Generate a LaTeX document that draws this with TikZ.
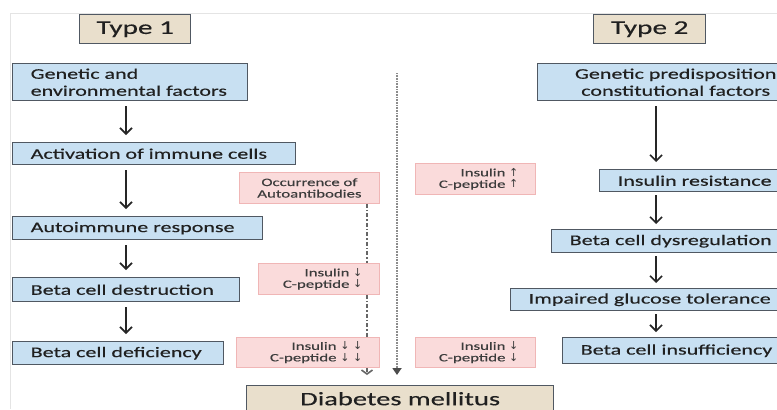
\documentclass[tikz,border=0pt]{standalone}
\usepackage{fontspec}
\setmainfont{Carlito}[FakeStretch=1.5,FakeBold=0.35]
\newfontfamily\symf{DejaVu Sans}
\usetikzlibrary{arrows.meta}
\definecolor{bluef}{RGB}{200,224,242}
\definecolor{bdr}{RGB}{80,88,98}
\definecolor{beige}{RGB}{233,223,204}
\definecolor{pinkf}{RGB}{250,219,219}
\definecolor{pinkb}{RGB}{240,182,182}
\definecolor{txt}{RGB}{32,32,32}
\definecolor{ptxt}{RGB}{60,60,60}
\definecolor{framec}{RGB}{228,228,228}
\newcommand{\arrdn}{{\symf\fontsize{11bp}{11bp}\selectfont ↓}}
\newcommand{\arrup}{{\symf\fontsize{11bp}{11bp}\selectfont ↑}}
\begin{document}
\begin{tikzpicture}[x=1bp,y=-1bp,
  bluebox/.style={draw=bdr, fill=bluef, line width=1.4bp, inner xsep=18bp, inner ysep=0pt,
    anchor=north west, align=left, text=txt, font=\fontsize{14.7bp}{17bp}\selectfont},
  typebox/.style={draw=bdr, fill=beige, line width=1.4bp, inner sep=0pt, anchor=north west,
    text=txt, font=\fontsize{19.5bp}{22bp}\selectfont},
  pinkbox/.style={draw=pinkb, fill=pinkf, line width=0.9bp, inner xsep=17bp, inner ysep=0pt,
    anchor=north west, align=right, text=ptxt, font=\fontsize{11.2bp}{11.5bp}\selectfont},
  flowarr/.style={line width=1.6bp, black!85, -{Straight Barb[length=6bp,width=12bp]},
    shorten <=5bp, shorten >=7bp},
  dashdot/.style={line width=2bp, black!60, dash pattern=on 4bp off 2bp on 1.5bp off 2bp},
  dotline/.style={line width=2.2bp, black!45, dash pattern=on 0.8bp off 0.8bp}
]
\useasboundingbox (0,0) rectangle (777,409);
\clip (0,0) rectangle (777,409);
\fill[white] (0,0) rectangle (777,409);
\draw[framec, line width=1bp] (10,409) -- (10,13) -- (777,13);

% Type headers
\node[typebox, minimum width=111bp, minimum height=29bp] (t1) at (79,14) {Type 1};
\node[typebox, minimum width=112bp, minimum height=29bp] (t2) at (593,14) {Type 2};

% Type 1 chain
\node[bluebox, text width=199bp, minimum height=37bp] (g1) at (12,63)
  {\mbox{Genetic and}\\\mbox{environmental factors}};
\node[bluebox, text width=247bp, minimum height=22bp] (a1) at (12,142) {\mbox{Activation of immune cells}};
\node[bluebox, text width=214bp, minimum height=23bp] (a2) at (12,216) {\mbox{Autoimmune response}};
\node[bluebox, text width=191bp, minimum height=24bp] (a3) at (12,277) {\mbox{Beta cell destruction}};
\node[bluebox, text width=175bp, minimum height=23bp] (a4) at (12,341) {\mbox{Beta cell deficiency}};

% Type 2 chain
\node[bluebox, align=center, inner xsep=17bp, text width=242bp, minimum height=37bp] (b1) at (537,63)
  {Genetic predisposition\\constitutional factors};
\node[bluebox, text width=200bp, minimum height=22bp] (b2) at (599,169) {\mbox{Insulin resistance}};
\node[bluebox, text width=240bp, minimum height=23bp] (b3) at (551,229) {\mbox{Beta cell dysregulation}};
\node[bluebox, text width=280bp, minimum height=22bp] (b4) at (510,288) {\mbox{Impaired glucose tolerance}};
\node[bluebox, text width=240bp, minimum height=26bp] (b5) at (562,337) {\mbox{Beta cell insufficiency}};

% pink boxes
\node[pinkbox, align=center, inner xsep=4bp, text width=132bp, minimum height=31bp] (p1) at (239,172)
  {Occurrence of\\Autoantibodies};
\node[pinkbox, text width=87bp, minimum height=31bp] (p2) at (258,263) {Insulin \arrdn\\C-peptide \arrdn};
\node[pinkbox, text width=109bp, minimum height=30bp] (p3) at (236,337) {Insulin \arrdn\ \arrdn\\C-peptide \arrdn\ \arrdn};
\node[pinkbox, text width=86bp, minimum height=31bp] (p4) at (415,163) {Insulin \arrup\\C-peptide \arrup};
\node[pinkbox, text width=86bp, minimum height=30bp] (p5) at (415,337) {Insulin \arrdn\\C-peptide \arrdn};

% outcome
\node[typebox, minimum width=307bp, minimum height=26bp, font=\fontsize{19bp}{22bp}\selectfont] (dm) at (246,385) {Diabetes mellitus};

% helper coordinates
\coordinate (xl) at (126,0);
\coordinate (xr) at (656,0);
\coordinate (xd) at (367,0);
\coordinate (top) at (397,73);

% Type 1 arrows
\draw[flowarr] (g1.south -| xl) -- (a1.north -| xl);
\draw[flowarr] (a1.south -| xl) -- (a2.north -| xl);
\draw[flowarr] (a2.south -| xl) -- (a3.north -| xl);
\draw[flowarr] (a3.south -| xl) -- (a4.north -| xl);

% Type 2 arrows
\draw[flowarr] (b1.south -| xr) -- (b2.north -| xr);
\draw[flowarr, shorten <=3bp, shorten >=5bp] (b2.south -| xr) -- (b3.north -| xr);
\draw[flowarr, shorten <=3bp, shorten >=5bp] (b3.south -| xr) -- (b4.north -| xr);
\draw[flowarr, shorten <=3bp, shorten >=5bp] (b4.south -| xr) -- (b5.north -| xr);

% dash-dot link
\draw[dashdot] (p1.south -| xd) -- (p2.north -| xd);
\draw[dashdot] (p2.south -| xd) -- (p3.north -| xd);
\draw[dashdot, -{Straight Barb[length=4bp,width=11bp,line width=1.6bp]}, shorten >=10bp] (p3.south -| xd) -- (dm.north -| xd);

% central dotted line
\draw[dotline, -{Triangle[length=7bp,width=9bp,color=black!70]}, shorten >=10bp] (top) -- (dm.north -| top);
\end{tikzpicture}
\end{document}
